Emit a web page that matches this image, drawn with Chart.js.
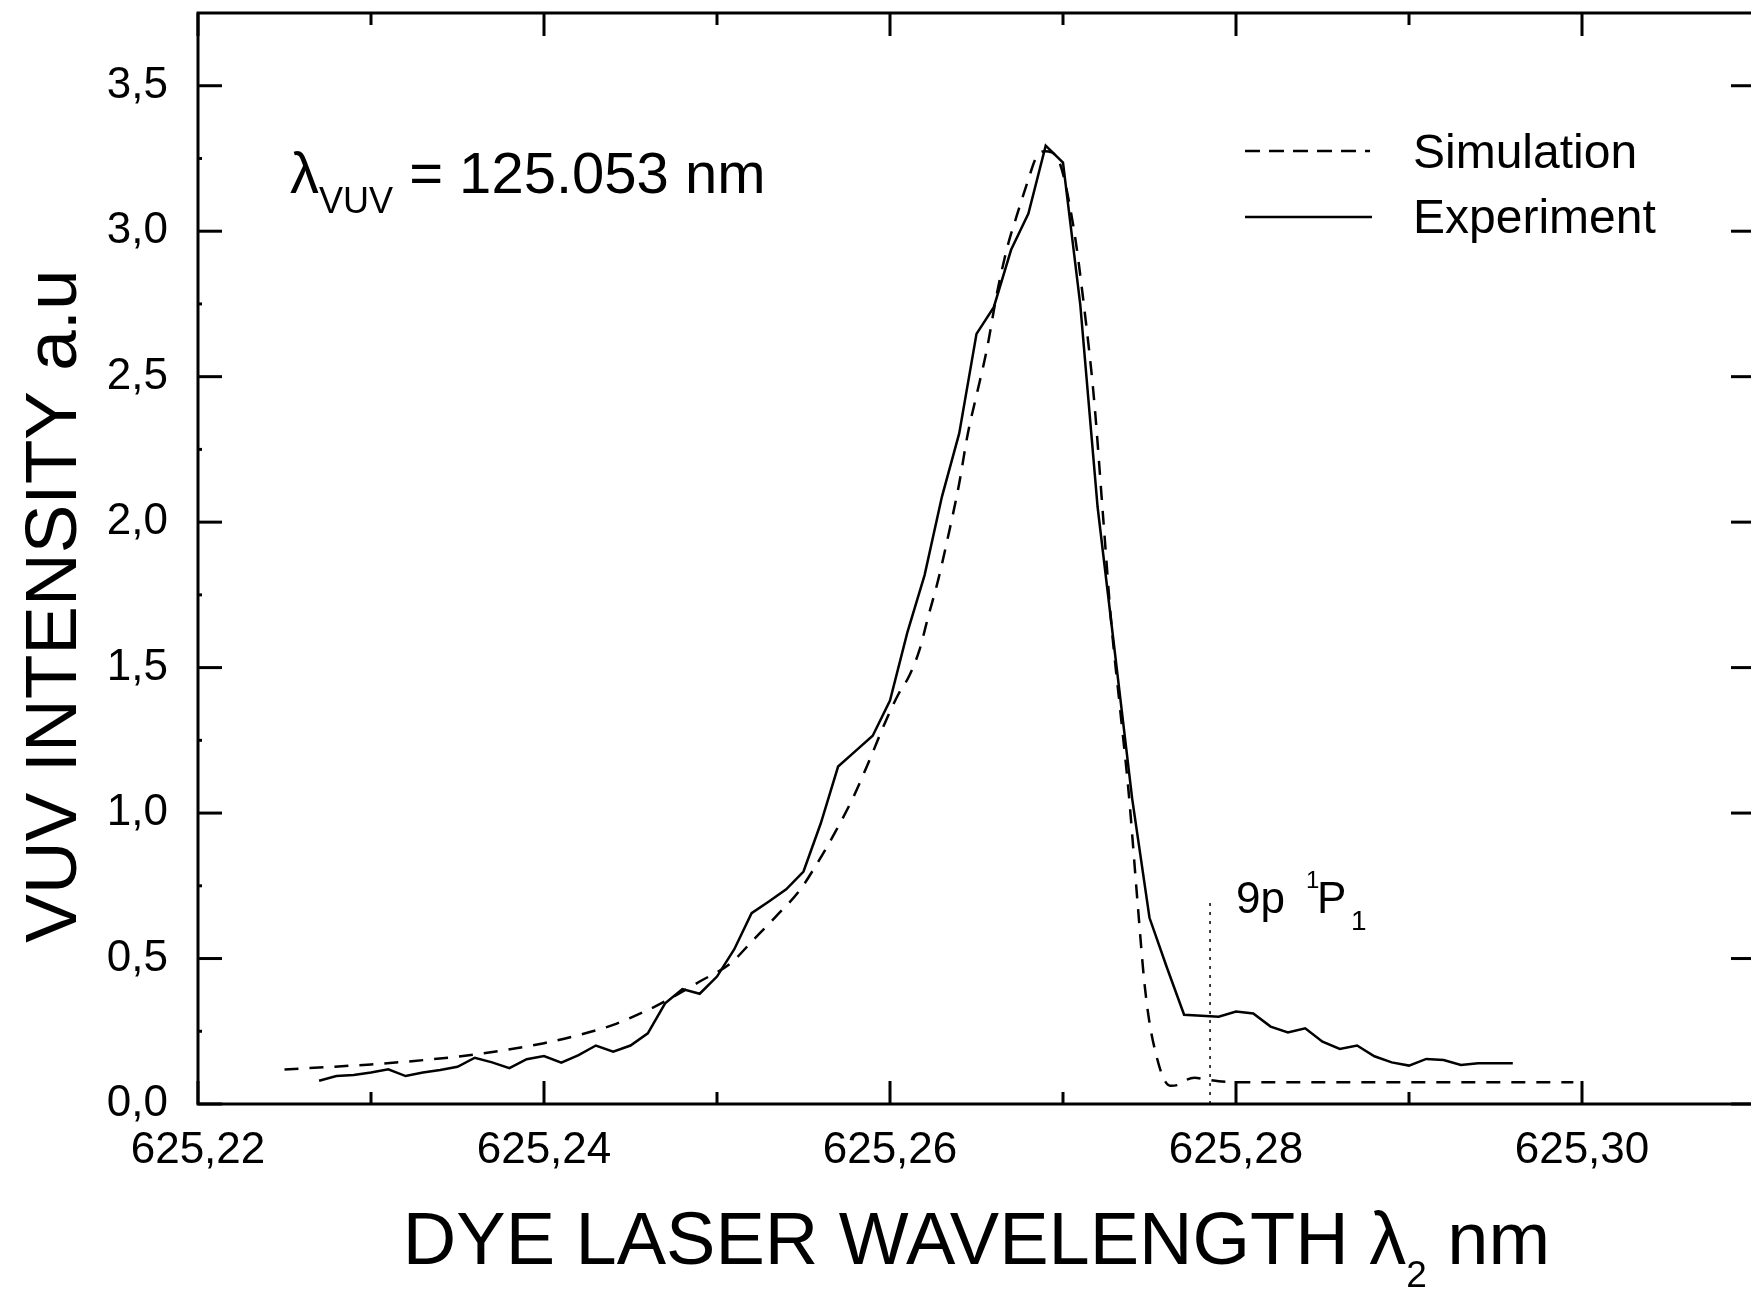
<!DOCTYPE html>
<html>
<head>
<meta charset="utf-8">
<title>VUV intensity vs dye laser wavelength</title>
<style>
  html, body { margin: 0; padding: 0; overflow: hidden; background: #fff; }
  #wrap { width: 1760px; height: 1290px; }
</style>
</head>
<body>
<div id="wrap"><canvas id="chart" width="1760" height="1290"></canvas></div>
<script src="https://cdn.jsdelivr.net/npm/chart.js@4.4.1/dist/chart.umd.min.js"></script>
<script>
const FONT = '"Liberation Sans", Arial, Helvetica, sans-serif';

// axis ticks
const xMajorTicks = [625.22, 625.24, 625.26, 625.28, 625.30];
const xMinorTicks = [625.23, 625.25, 625.27, 625.29];
const yMajorTicks = [0, 0.5, 1.0, 1.5, 2.0, 2.5, 3.0, 3.5];
const yMinorTicks = [0.25, 0.75, 1.25, 1.75, 2.25, 2.75, 3.25];

// measured spectrum
const experimentWavelength = [
  625.227, 625.228, 625.229, 625.230, 625.231, 625.232, 625.233, 625.234, 625.235, 625.236,
  625.237, 625.238, 625.239, 625.240, 625.241, 625.242, 625.243, 625.244, 625.245, 625.246,
  625.247, 625.248, 625.249, 625.250, 625.251, 625.252, 625.253, 625.254, 625.255, 625.256,
  625.257, 625.258, 625.259, 625.260, 625.261, 625.262, 625.263, 625.264, 625.265, 625.266,
  625.267, 625.268, 625.269, 625.270, 625.271, 625.272, 625.273, 625.274, 625.275, 625.276,
  625.277, 625.278, 625.279, 625.280, 625.281, 625.282, 625.283, 625.284, 625.285, 625.286,
  625.287, 625.288, 625.289, 625.290, 625.291, 625.292, 625.293, 625.294, 625.295, 625.296
];
const experimentIntensity = [
  0.080, 0.096, 0.100, 0.108, 0.119, 0.096, 0.108, 0.117, 0.128, 0.159,
  0.143, 0.123, 0.154, 0.165, 0.142, 0.168, 0.201, 0.180, 0.201, 0.243,
  0.346, 0.395, 0.379, 0.438, 0.532, 0.656, 0.696, 0.738, 0.799, 0.965,
  1.160, 1.213, 1.266, 1.387, 1.620, 1.818, 2.087, 2.305, 2.647, 2.739,
  2.936, 3.061, 3.294, 3.236, 2.747, 2.052, 1.551, 1.049, 0.640, 0.470,
  0.307, 0.303, 0.300, 0.318, 0.311, 0.266, 0.246, 0.260, 0.214, 0.189,
  0.201, 0.164, 0.143, 0.132, 0.155, 0.151, 0.134, 0.140, 0.140, 0.140
];

// simulated spectrum
const simulationWavelength = [
  625.2250, 625.2275, 625.2300, 625.2325, 625.2350, 625.2375, 625.2400, 625.2425, 625.2440, 625.2460,
  625.2473, 625.2490, 625.2508, 625.2520, 625.2534, 625.2548, 625.2558, 625.2568, 625.2579, 625.2589,
  625.2597, 625.2605, 625.2611, 625.2617, 625.2622, 625.2628, 625.2634, 625.2640, 625.2645, 625.2650,
  625.2656, 625.2662, 625.2668, 625.2673, 625.2679, 625.2685, 625.2690, 625.2697, 625.2706, 625.2712,
  625.2718, 625.2723, 625.2728, 625.2733, 625.2738, 625.2743, 625.2747, 625.2750, 625.2754, 625.2758,
  625.2762, 625.2766, 625.2770, 625.2776, 625.2782, 625.2790, 625.2800, 625.2900, 625.2995
];
const simulationIntensity = [
  0.119, 0.127, 0.136, 0.148, 0.163, 0.183, 0.209, 0.245, 0.272, 0.323,
  0.363, 0.421, 0.484, 0.558, 0.644, 0.736, 0.828, 0.931, 1.057, 1.194,
  1.309, 1.410, 1.470, 1.560, 1.673, 1.805, 1.962, 2.133, 2.305, 2.436,
  2.594, 2.792, 2.949, 3.048, 3.160, 3.259, 3.275, 3.249, 3.017, 2.750,
  2.419, 2.033, 1.647, 1.358, 1.068, 0.700, 0.420, 0.280, 0.166, 0.090,
  0.063, 0.065, 0.080, 0.090, 0.085, 0.078, 0.075, 0.0745, 0.0745
];

// 9p 1P1 marker
const markerWavelength = [625.2785, 625.2785];
const markerIntensity = [0, 0.70];

function pairs(xs, ys) {
  return xs.map((x, i) => ({ x: x, y: ys[i] }));
}

function font(size) {
  return size + 'px ' + FONT;
}

const framePlugin = {
  id: 'frame',
  afterDraw(chart) {
    const ctx = chart.ctx;
    const a = chart.chartArea;
    const xs = chart.scales.x;
    const ys = chart.scales.y;
    ctx.save();
    ctx.strokeStyle = '#000';
    ctx.fillStyle = '#000';
    ctx.lineCap = 'butt';

    function seg(x1, y1, x2, y2) {
      ctx.beginPath();
      ctx.moveTo(x1, y1);
      ctx.lineTo(x2, y2);
      ctx.stroke();
    }

    // frame
    ctx.lineWidth = 3;
    ctx.strokeRect(a.left, a.top, a.right - a.left, a.bottom - a.top);

    // inward ticks
    xMajorTicks.forEach(v => {
      const px = xs.getPixelForValue(v);
      seg(px, a.bottom, px, a.bottom - 23);
      seg(px, a.top, px, a.top + 23);
    });
    xMinorTicks.forEach(v => {
      const px = xs.getPixelForValue(v);
      seg(px, a.bottom, px, a.bottom - 12);
      seg(px, a.top, px, a.top + 12);
    });
    yMajorTicks.forEach(v => {
      const py = ys.getPixelForValue(v);
      seg(a.left, py, a.left + 24, py);
      seg(a.right, py, a.right - 24, py);
    });
    yMinorTicks.forEach(v => {
      const py = ys.getPixelForValue(v);
      seg(a.left, py, a.left + 4, py);
    });

    ctx.textAlign = 'left';
    ctx.textBaseline = 'alphabetic';

    // x title with subscript
    const t1 = 'DYE LASER WAVELENGTH \u03BB';
    const t2 = '2';
    const t3 = ' nm';
    ctx.font = font(74);
    const w1 = ctx.measureText(t1).width;
    const w3 = ctx.measureText(t3).width;
    ctx.font = font(37);
    const w2 = ctx.measureText(t2).width;
    let x0 = (a.left + a.right) / 2 - (w1 + w2 + w3) / 2;
    ctx.font = font(74);
    ctx.fillText(t1, x0, 1264);
    ctx.font = font(37);
    ctx.fillText(t2, x0 + w1, 1287);
    ctx.font = font(74);
    ctx.fillText(t3, x0 + w1 + w2, 1264);

    // y title
    ctx.save();
    ctx.translate(76, 606);
    ctx.rotate(-Math.PI / 2);
    ctx.textAlign = 'center';
    ctx.font = font(73);
    ctx.fillText('VUV INTENSITY a.u', 0, 0);
    ctx.restore();

    // lambda_VUV annotation
    ctx.font = font(58);
    ctx.fillText('\u03BB', 290, 193);
    const wl = ctx.measureText('\u03BB').width;
    ctx.font = font(36);
    ctx.fillText('VUV', 290 + wl, 213);
    const wv = ctx.measureText('VUV').width;
    ctx.font = font(58);
    ctx.fillText(' = 125.053 nm', 290 + wl + wv, 193);

    // legend
    ctx.lineWidth = 2.5;
    ctx.setLineDash([15, 9]);
    seg(1245, 151, 1370, 151);
    ctx.setLineDash([]);
    seg(1245, 217, 1372, 217);
    ctx.font = font(48);
    ctx.fillText('Simulation', 1413, 168);
    ctx.fillText('Experiment', 1413, 233);

    // state label 9p 1P1
    ctx.font = font(44);
    ctx.fillText('9p', 1236, 913);
    ctx.font = font(24);
    ctx.fillText('1', 1306, 888);
    ctx.font = font(44);
    ctx.fillText('P', 1317, 913);
    ctx.font = font(28);
    ctx.fillText('1', 1351, 930);

    ctx.restore();
  }
};

new Chart(document.getElementById('chart'), {
  type: 'scatter',
  data: {
    datasets: [
      {
        label: 'Simulation',
        data: pairs(simulationWavelength, simulationIntensity),
        showLine: true,
        borderColor: '#000',
        borderWidth: 2.5,
        borderDash: [14, 11],
        pointRadius: 0,
        cubicInterpolationMode: 'monotone',
        fill: false
      },
      {
        label: 'Experiment',
        data: pairs(experimentWavelength, experimentIntensity),
        showLine: true,
        borderColor: '#000',
        borderWidth: 2.5,
        pointRadius: 0,
        tension: 0,
        fill: false
      },
      {
        label: 'marker',
        data: pairs(markerWavelength, markerIntensity),
        showLine: true,
        borderColor: '#000',
        borderWidth: 1.5,
        borderDash: [3, 6],
        pointRadius: 0,
        fill: false
      }
    ]
  },
  options: {
    responsive: false,
    animation: false,
    devicePixelRatio: 1,
    layout: { autoPadding: false, padding: { left: 0, right: 5, top: 13, bottom: 0 } },
    plugins: {
      legend: { display: false },
      tooltip: { enabled: false }
    },
    scales: {
      x: {
        type: 'linear',
        min: 625.22,
        max: 625.31,
        grid: { display: false, drawTicks: false },
        border: { display: false },
        afterBuildTicks: s => { s.ticks = xMajorTicks.map(v => ({ value: v })); },
        afterFit: s => { s.height = 186; s.paddingLeft = 0; s.paddingRight = 0; },
        ticks: {
          color: '#000',
          font: { family: FONT, size: 44 },
          padding: 20,
          maxRotation: 0,
          autoSkip: false,
          callback: v => v.toFixed(2).replace('.', ',')
        }
      },
      y: {
        type: 'linear',
        min: 0,
        max: 3.75,
        grid: { display: false, drawTicks: false },
        border: { display: false },
        afterBuildTicks: s => { s.ticks = yMajorTicks.map(v => ({ value: v })); },
        afterFit: s => { s.width = 198; s.paddingTop = 0; s.paddingBottom = 0; },
        ticks: {
          color: '#000',
          font: { family: FONT, size: 44 },
          padding: 30,
          autoSkip: false,
          callback: v => v.toFixed(1).replace('.', ',')
        }
      }
    }
  },
  plugins: [framePlugin]
});
</script>
</body>
</html>
